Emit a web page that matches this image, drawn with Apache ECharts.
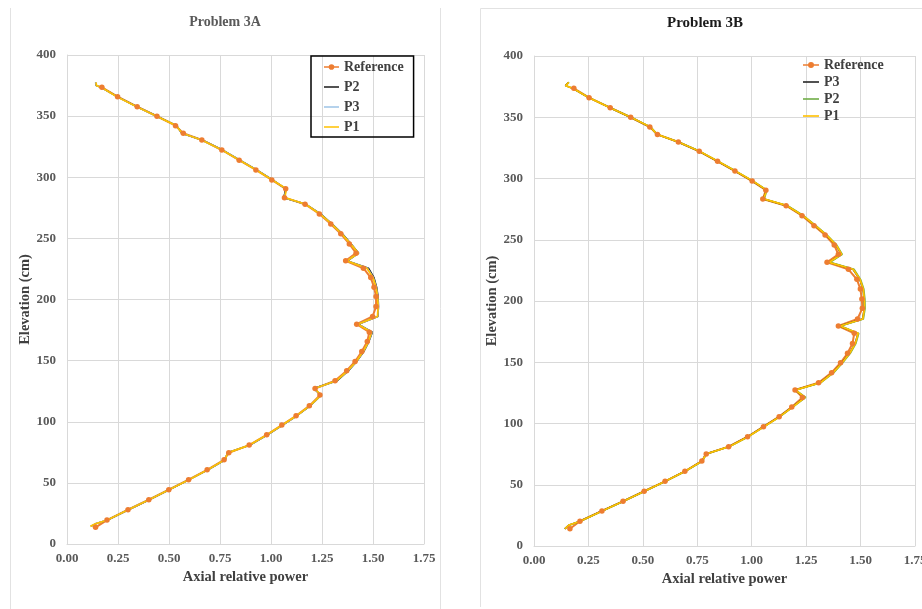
<!DOCTYPE html>
<html>
<head>
<meta charset="utf-8">
<script src="https://cdn.jsdelivr.net/npm/echarts@6/dist/echarts.min.js"></script>
<style>
html,body{margin:0;padding:0;background:#fff;}
#chart{width:922px;height:609px;}
</style>
</head>
<body>
<div id="chart"></div>
<script>
// ---------- Problem 3A ----------
const xTicks = [0, 0.25, 0.5, 0.75, 1.0, 1.25, 1.5, 1.75];
const yTicks = [0, 50, 100, 150, 200, 250, 300, 350, 400];

const elevRefA = [373.6, 365.9, 357.7, 349.9, 342.2, 336.0, 330.5, 322.3, 313.9, 306.0, 297.8, 290.5, 283.3, 277.9, 270.0, 261.8, 253.7, 245.5, 237.9, 231.6, 225.6, 217.9, 210.1, 202.4, 194.2, 186.1, 179.8, 173.3, 165.6, 157.4, 149.3, 141.7, 133.5, 127.2, 121.8, 113.0, 104.9, 97.3, 89.3, 80.9, 74.6, 68.9, 60.7, 52.6, 44.4, 36.2, 28.0, 19.6, 13.6];
const refA = [0.171, 0.248, 0.344, 0.441, 0.532, 0.570, 0.661, 0.759, 0.844, 0.926, 1.004, 1.072, 1.066, 1.167, 1.237, 1.293, 1.342, 1.384, 1.417, 1.366, 1.453, 1.489, 1.505, 1.515, 1.515, 1.498, 1.420, 1.482, 1.472, 1.445, 1.412, 1.371, 1.314, 1.216, 1.240, 1.188, 1.123, 1.053, 0.979, 0.893, 0.793, 0.770, 0.687, 0.596, 0.499, 0.401, 0.299, 0.196, 0.140];

const elevPA = [377.5, 375.0, 373.6, 365.9, 357.7, 349.9, 342.2, 336.0, 330.5, 322.3, 313.9, 306.0, 297.8, 290.5, 283.3, 277.9, 270.0, 261.8, 253.7, 245.5, 237.9, 231.6, 225.6, 217.9, 210.1, 202.4, 194.2, 186.1, 179.8, 173.3, 165.6, 157.4, 149.3, 141.7, 133.5, 127.2, 121.8, 113.0, 104.9, 97.3, 89.3, 80.9, 74.6, 68.9, 60.7, 52.6, 44.4, 36.2, 28.0, 19.6, 16.5, 14.4];
const p2A = [0.140, 0.143, 0.166, 0.246, 0.343, 0.441, 0.538, 0.562, 0.662, 0.762, 0.848, 0.930, 1.008, 1.073, 1.062, 1.172, 1.243, 1.300, 1.350, 1.393, 1.430, 1.375, 1.478, 1.505, 1.518, 1.525, 1.527, 1.524, 1.428, 1.497, 1.480, 1.455, 1.420, 1.380, 1.325, 1.208, 1.246, 1.192, 1.127, 1.057, 0.983, 0.897, 0.786, 0.776, 0.691, 0.599, 0.501, 0.403, 0.301, 0.199, 0.140, 0.117];
const p3A = [0.141, 0.144, 0.167, 0.245, 0.342, 0.440, 0.536, 0.564, 0.661, 0.761, 0.847, 0.929, 1.007, 1.074, 1.066, 1.171, 1.241, 1.298, 1.348, 1.391, 1.429, 1.373, 1.473, 1.502, 1.516, 1.523, 1.526, 1.523, 1.426, 1.495, 1.479, 1.453, 1.419, 1.378, 1.322, 1.212, 1.245, 1.191, 1.126, 1.056, 0.982, 0.896, 0.787, 0.775, 0.690, 0.598, 0.500, 0.402, 0.300, 0.198, 0.139, 0.116];
const p1A = [0.142, 0.145, 0.168, 0.245, 0.342, 0.440, 0.535, 0.565, 0.660, 0.760, 0.846, 0.928, 1.006, 1.075, 1.068, 1.170, 1.240, 1.297, 1.347, 1.390, 1.428, 1.372, 1.470, 1.500, 1.515, 1.522, 1.525, 1.522, 1.425, 1.493, 1.478, 1.452, 1.418, 1.376, 1.320, 1.214, 1.245, 1.190, 1.125, 1.055, 0.981, 0.895, 0.788, 0.774, 0.690, 0.598, 0.500, 0.402, 0.300, 0.198, 0.139, 0.115];

// ---------- Problem 3B ----------
const elevRefB = [373.6, 366.0, 357.8, 350.0, 342.0, 336.0, 329.8, 322.2, 314.0, 306.1, 297.9, 290.5, 283.3, 277.8, 269.6, 261.5, 253.9, 245.7, 238.1, 231.6, 225.9, 217.7, 209.8, 201.6, 194.0, 185.3, 179.6, 173.6, 165.4, 157.3, 149.6, 141.5, 133.3, 127.3, 121.3, 113.5, 105.6, 97.4, 89.2, 81.1, 75.1, 69.4, 61.0, 52.8, 44.7, 36.5, 28.6, 20.2, 14.1];
const refB = [0.183, 0.253, 0.350, 0.444, 0.532, 0.567, 0.663, 0.759, 0.843, 0.923, 1.002, 1.065, 1.051, 1.158, 1.231, 1.286, 1.337, 1.379, 1.398, 1.346, 1.444, 1.483, 1.499, 1.506, 1.508, 1.486, 1.398, 1.471, 1.463, 1.440, 1.408, 1.367, 1.307, 1.199, 1.233, 1.184, 1.126, 1.054, 0.981, 0.894, 0.791, 0.771, 0.693, 0.602, 0.506, 0.409, 0.312, 0.211, 0.165];

const elevPB = [378.5, 375.8, 373.6, 366.0, 357.8, 350.0, 342.0, 336.0, 329.8, 322.2, 314.0, 306.1, 297.9, 290.5, 283.3, 277.8, 269.6, 261.5, 253.9, 245.7, 238.1, 231.6, 225.9, 217.7, 209.8, 201.6, 194.0, 185.3, 179.6, 173.6, 165.4, 157.3, 149.6, 141.5, 133.3, 127.3, 121.3, 113.5, 105.6, 97.4, 89.2, 81.1, 75.1, 69.4, 61.0, 52.8, 44.7, 36.5, 28.6, 20.2, 17.0, 14.0];
const p3B = [0.159, 0.144, 0.177, 0.251, 0.348, 0.443, 0.534, 0.564, 0.662, 0.759, 0.844, 0.924, 1.004, 1.067, 1.054, 1.161, 1.235, 1.291, 1.342, 1.387, 1.412, 1.354, 1.465, 1.496, 1.511, 1.516, 1.517, 1.509, 1.404, 1.488, 1.475, 1.449, 1.414, 1.373, 1.314, 1.199, 1.244, 1.187, 1.127, 1.055, 0.982, 0.895, 0.789, 0.772, 0.693, 0.602, 0.506, 0.409, 0.312, 0.211, 0.159, 0.141];
const p2B = [0.161, 0.146, 0.179, 0.253, 0.350, 0.446, 0.537, 0.566, 0.664, 0.762, 0.847, 0.927, 1.007, 1.070, 1.058, 1.165, 1.239, 1.295, 1.346, 1.391, 1.416, 1.360, 1.470, 1.500, 1.515, 1.520, 1.521, 1.513, 1.408, 1.492, 1.479, 1.453, 1.418, 1.377, 1.318, 1.203, 1.248, 1.190, 1.130, 1.058, 0.985, 0.898, 0.792, 0.775, 0.695, 0.604, 0.508, 0.411, 0.314, 0.213, 0.161, 0.143];
const p1B = [0.160, 0.145, 0.178, 0.252, 0.349, 0.444, 0.535, 0.565, 0.663, 0.760, 0.845, 0.925, 1.005, 1.068, 1.055, 1.162, 1.236, 1.292, 1.343, 1.388, 1.413, 1.355, 1.466, 1.497, 1.512, 1.517, 1.518, 1.510, 1.405, 1.489, 1.476, 1.450, 1.415, 1.374, 1.315, 1.200, 1.245, 1.188, 1.128, 1.056, 0.983, 0.896, 0.790, 0.773, 0.694, 0.603, 0.507, 0.410, 0.313, 0.212, 0.160, 0.142];

const titles = ['Problem 3A', 'Problem 3B'];
const xName = 'Axial relative power';
const yName = 'Elevation (cm)';

const FONT = '"Liberation Serif", "Times New Roman", serif';
const pairs = (xs, ys) => ys.map((y, i) => [xs[i], y]);

// legend icons: plain line, and line with a dot
const ICON_LINE = 'path://M0,0 H16 V1.6 H0 Z';
const ICON_DOT = 'path://M0,6.2 H16 V7.8 H0 Z M8,4 A3,3 0 1,1 8,10 A3,3 0 1,1 8,4 Z';

function xAxisDef(gi) {
  return {
    gridIndex: gi, type: 'value', min: xTicks[0], max: xTicks[xTicks.length - 1], interval: 0.25,
    name: xName, nameLocation: 'middle', nameGap: 25,
    nameTextStyle: { fontFamily: FONT, fontWeight: 'bold', fontSize: 14.5, color: '#404040' },
    axisLine: { show: true, lineStyle: { color: '#d9d9d9' } },
    axisTick: { show: false },
    axisLabel: { margin: 8, fontFamily: FONT, fontWeight: 'bold', fontSize: 13, color: '#595959',
      alignMaxLabel: 'center', alignMinLabel: 'center', hideOverlap: false,
      formatter: v => v.toFixed(2) },
    splitLine: { show: true, lineStyle: { color: '#d9d9d9', width: 1 } }
  };
}
function yAxisDef(gi, gap) {
  return {
    gridIndex: gi, type: 'value', min: yTicks[0], max: yTicks[yTicks.length - 1], interval: 50,
    name: yName, nameLocation: 'middle', nameGap: gap,
    nameTextStyle: { fontFamily: FONT, fontWeight: 'bold', fontSize: 14.5, color: '#404040' },
    axisLine: { show: true, lineStyle: { color: '#d9d9d9' } },
    axisTick: { show: false },
    axisLabel: { margin: 11, fontFamily: FONT, fontWeight: 'bold', fontSize: 13, color: '#595959' },
    splitLine: { show: true, lineStyle: { color: '#d9d9d9', width: 1 } }
  };
}
function lineSeries(name, gi, data, color, width, withMarker) {
  return {
    name, type: 'line', xAxisIndex: gi, yAxisIndex: gi, data,
    symbol: withMarker ? 'circle' : 'none', symbolSize: 5.5, showSymbol: withMarker,
    lineStyle: { color, width }, itemStyle: { color },
    animation: false, silent: true
  };
}
const legendText = { fontFamily: FONT, fontWeight: 'bold', fontSize: 14, color: '#404040' };

const chart = echarts.init(document.getElementById('chart'), null, { renderer: 'canvas' });
chart.setOption({
  backgroundColor: '#ffffff',
  animation: false,
  title: [
    { text: titles[0], left: 225, top: 15, textAlign: 'center', padding: 0,
      textStyle: { fontFamily: FONT, fontWeight: 'bold', fontSize: 14, color: '#595959' } },
    { text: titles[1], left: 705, top: 16, textAlign: 'center', padding: 0,
      textStyle: { fontFamily: FONT, fontWeight: 'bold', fontSize: 15, color: '#1a1a1a' } }
  ],
  grid: [
    { left: 67, right: 498, top: 55, bottom: 65, containLabel: false, outerBoundsMode: 'none' },
    { left: 534, right: 7, top: 56, bottom: 63, containLabel: false, outerBoundsMode: 'none' }
  ],
  xAxis: [xAxisDef(0), xAxisDef(1)],
  yAxis: [yAxisDef(0, 29), yAxisDef(1, 34)],
  legend: [
    { data: [
        { name: 'Reference', icon: ICON_DOT },
        { name: 'P2', icon: ICON_LINE },
        { name: 'P3', icon: ICON_LINE },
        { name: 'P1', icon: ICON_LINE }
      ],
      orient: 'vertical', left: 311, top: 56, symbolKeepAspect: true,
      itemWidth: 15, itemHeight: 14, itemGap: 6,
      padding: [4, 10, 3, 13], borderColor: '#000', borderWidth: 1.5,
      textStyle: legendText },
    { data: [
        { name: 'B-Reference', icon: ICON_DOT },
        { name: 'B-P3', icon: ICON_LINE },
        { name: 'B-P2', icon: ICON_LINE },
        { name: 'B-P1', icon: ICON_LINE }
      ],
      orient: 'vertical', left: 803, top: 58, symbolKeepAspect: true,
      itemWidth: 16, itemHeight: 14, itemGap: 3, padding: 0,
      formatter: n => n.replace(/^B-/, ''),
      textStyle: legendText }
  ],
  graphic: [
    { type: 'line', shape: { x1: 10.5, y1: 8, x2: 10.5, y2: 609 }, style: { stroke: '#e2e2e2', lineWidth: 1 }, silent: true },
    { type: 'line', shape: { x1: 440.5, y1: 8, x2: 440.5, y2: 609 }, style: { stroke: '#e2e2e2', lineWidth: 1 }, silent: true },
    { type: 'line', shape: { x1: 480.5, y1: 8.5, x2: 922, y2: 8.5 }, style: { stroke: '#e2e2e2', lineWidth: 1 }, silent: true },
    { type: 'line', shape: { x1: 480.5, y1: 8.5, x2: 480.5, y2: 607 }, style: { stroke: '#e2e2e2', lineWidth: 1 }, silent: true }
  ],
  series: [
    lineSeries('Reference', 0, pairs(refA, elevRefA), '#ED7D31', 2, true),
    lineSeries('P2', 0, pairs(p2A, elevPA), '#1a1a1a', 1.5, false),
    lineSeries('P3', 0, pairs(p3A, elevPA), '#9DC3E6', 1.5, false),
    lineSeries('P1', 0, pairs(p1A, elevPA), '#FFC000', 1.75, false),
    lineSeries('B-Reference', 1, pairs(refB, elevRefB), '#ED7D31', 2, true),
    lineSeries('B-P3', 1, pairs(p3B, elevPB), '#262626', 1.5, false),
    lineSeries('B-P2', 1, pairs(p2B, elevPB), '#70AD47', 1.5, false),
    lineSeries('B-P1', 1, pairs(p1B, elevPB), '#FFC000', 1.75, false)
  ]
});
</script>
</body>
</html>
